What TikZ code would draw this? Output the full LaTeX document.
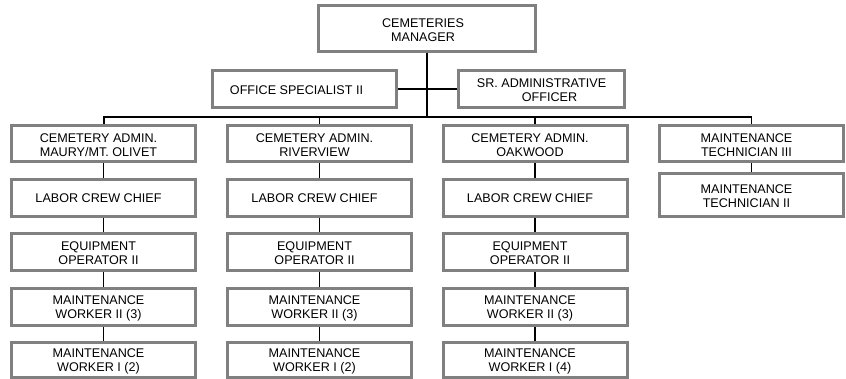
\documentclass[tikz,border=0pt]{standalone}
\usepackage{fontspec}
\setmainfont{Liberation Sans}
\definecolor{boxgray}{RGB}{128,128,128}
\begin{document}
\begin{tikzpicture}[x=1pt,y=-1pt,
  box/.style={draw=boxgray, line width=3pt, fill=white, minimum width=184pt, minimum height=37pt, inner sep=0pt},
  lbl/.style={align=center, font=\fontsize{12.6}{14}\selectfont, inner sep=0pt, xshift=-5pt, yshift=-1.5pt},
  spine/.style={draw=black, line width=2pt},
  link/.style={draw=black, line width=1.3pt}]
\useasboundingbox (0,0) rectangle (846,379);

% top level
\node[box, minimum width=217pt, minimum height=46pt, label={[lbl, xshift=1pt]center:{CEMETERIES\\MANAGER}}] (top) at (427,28.5) {};
\node[box, label={[lbl, xshift=-3pt]center:{OFFICE SPECIALIST II}}] (off) at (304.5,89) {};
\node[box, minimum width=166pt, label={[lbl, xshift=5pt]center:{SR. ADMINISTRATIVE\\\hspace*{16pt}OFFICER}}] (sra) at (541.5,89) {};

% column 1
\node[box, minimum height=36pt, label={[lbl]center:{CEMETERY ADMIN.\\MAURY/MT. OLIVET}}] (a1) at (103.5,143.5) {};
\node[box, label={[lbl, yshift=1pt]center:{LABOR CREW CHIEF}}] (a2) at (103.5,198) {};
\node[box, label={[lbl]center:{EQUIPMENT\\OPERATOR II}}] (a3) at (103.5,252) {};
\node[box, label={[lbl]center:{MAINTENANCE\\WORKER II (3)}}] (a4) at (103.5,307) {};
\node[box, minimum height=35pt, label={[lbl]center:{MAINTENANCE\\WORKER I (2)}}] (a5) at (103.5,360) {};

% column 2
\node[box, minimum height=36pt, label={[lbl]center:{CEMETERY ADMIN.\\RIVERVIEW}}] (b1) at (319.5,143.5) {};
\node[box, label={[lbl, yshift=1pt]center:{LABOR CREW CHIEF}}] (b2) at (319.5,198) {};
\node[box, label={[lbl]center:{EQUIPMENT\\OPERATOR II}}] (b3) at (319.5,252) {};
\node[box, label={[lbl]center:{MAINTENANCE\\WORKER II (3)}}] (b4) at (319.5,307) {};
\node[box, minimum height=35pt, label={[lbl]center:{MAINTENANCE\\WORKER I (2)}}] (b5) at (319.5,360) {};

% column 3
\node[box, minimum height=36pt, label={[lbl]center:{CEMETERY ADMIN.\\OAKWOOD}}] (c1) at (535,143.5) {};
\node[box, label={[lbl, yshift=1pt]center:{LABOR CREW CHIEF}}] (c2) at (535,198) {};
\node[box, label={[lbl]center:{EQUIPMENT\\OPERATOR II}}] (c3) at (535,252) {};
\node[box, label={[lbl]center:{MAINTENANCE\\WORKER II (3)}}] (c4) at (535,307) {};
\node[box, minimum height=35pt, label={[lbl]center:{MAINTENANCE\\WORKER I (4)}}] (c5) at (535,360) {};

% column 4
\node[box, minimum height=36pt, label={[lbl]center:{MAINTENANCE\\TECHNICIAN III}}] (d1) at (751.5,143.5) {};
\node[box, minimum height=43pt, label={[lbl]center:{MAINTENANCE\\TECHNICIAN II}}] (d2) at (751.5,195) {};

% connectors
\coordinate (bus) at (427,117);
\begin{scope}[on background layer/.style={}]
\path[spine] (top.south) -- (bus);
\path[link] (off.east) -- (sra.west);
\path[spine] (a1.north) -- (a1.north |- bus) -- (d1.north |- bus);
\path[link] (a1.north |- bus) -- (a1.north);
\path[link] (b1.north |- bus) -- (b1.north);
\path[link] (c1.north |- bus) -- (c1.north);
\path[link] (d1.north |- bus) -- (d1.north);
\path[link] (a1) -- (a2) (a2) -- (a3) (a3) -- (a4) (a4) -- (a5);
\path[link] (b1) -- (b2) (b2) -- (b3) (b3) -- (b4) (b4) -- (b5);
\path[link] (c1) -- (c2) (c2) -- (c3) (c3) -- (c4) (c4) -- (c5);
\path[link] (d1) -- (d2);
\end{scope}
\end{tikzpicture}
\end{document}
